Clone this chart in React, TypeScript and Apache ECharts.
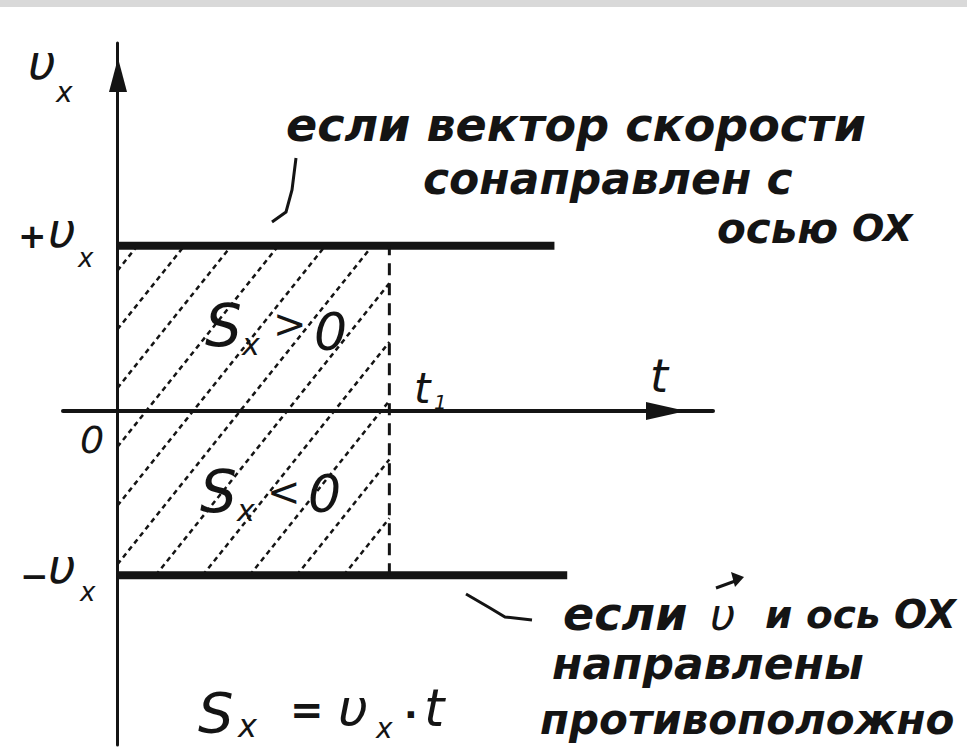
import React, { useEffect, useRef } from "react";
import * as echarts from "echarts";

// time values (t1 = 1), velocity values (±υx = ±1)
const t1 = 1;
const vx = 1;
const upperLineEnd = 1.607; // end of +υx line
const lowerLineEnd = 1.654; // end of −υx line

const topNote = ["если вектор скорости", "сонаправлен с", "осью", "OX"];
const bottomNote = ["если", "и ось OX", "направлены", "противоположно"];

const INK = "#141414";
const hand = (s: number) => `italic bold ${s}px 'DejaVu Sans'`;

function txt(text: string, x: number, y: number, font: string, extra: any = {}) {
  return {
    type: "text",
    x,
    y,
    style: {
      text,
      font,
      fill: INK,
      textAlign: "left",
      textVerticalAlign: "middle",
      ...extra,
    },
    z: 10,
  };
}

export default function App() {
  const ref = useRef<HTMLDivElement>(null);
  useEffect(() => {
    if (!ref.current) return;
    const chart = echarts.init(ref.current, null, { renderer: "svg" });
    const mathF = (s: number) => `italic ${s}px 'DejaVu Sans'`;
    const option: any = {
      animation: false,
      backgroundColor: "#ffffff",
      grid: { left: 63, right: 254, top: 43, bottom: 6 },
      xAxis: {
        type: "value",
        min: -0.2,
        max: 2.19,
        axisLine: {
          show: true,
          onZero: true,
          lineStyle: { color: INK, width: 4 },
        },
        axisTick: { show: false },
        axisLabel: { show: false },
        splitLine: { show: false },
      },
      yAxis: {
        type: "value",
        min: -2.03,
        max: 2.23,
        axisLine: {
          show: true,
          onZero: true,
          lineStyle: { color: INK, width: 3 },
        },
        axisTick: { show: false },
        axisLabel: { show: false },
        splitLine: { show: false },
      },
      series: [
        {
          type: "custom",
          silent: true,
          data: [[0, -vx, t1, vx]],
          renderItem: (params: any, api: any) => {
            const p0 = api.coord([api.value(0), api.value(3)]);
            const p1 = api.coord([api.value(2), api.value(1)]);
            const x0 = p0[0], yt = p0[1], x1 = p1[0], yb = p1[1];
            const H = yb - yt;
            const k = 1.25;
            const step = 47;
            const children: any[] = [];
            for (let c = x0 - H / k + 20; c < x1; c += step) {
              const sMin = Math.max(0, (x0 - c) * k);
              const sMax = Math.min(H, (x1 - c) * k);
              if (sMax - sMin < 10) continue;
              children.push({
                type: "line",
                shape: {
                  x1: c + sMin / k,
                  y1: yb - sMin,
                  x2: c + sMax / k,
                  y2: yb - sMax,
                },
                style: { stroke: INK, lineWidth: 2.5, lineDash: [5, 4] },
              });
            }
            return { type: "group", children };
          },
        },
        {
          type: "line",
          data: [[0, vx], [upperLineEnd, vx]],
          symbol: "none",
          lineStyle: { color: INK, width: 8 },
        },
        {
          type: "line",
          data: [[0, -vx], [lowerLineEnd, -vx]],
          symbol: "none",
          lineStyle: { color: INK, width: 8 },
        },
        {
          type: "line",
          data: [[t1, -vx], [t1, vx]],
          symbol: "none",
          lineStyle: { color: INK, width: 3, type: [12, 8] },
        },
      ],
      graphic: [
        { type: "rect", shape: { x: 0, y: 0, width: 967, height: 7 }, style: { fill: "#d9d9d9" }, z: 20 },
        // axis arrowheads (set back from the axis ends, as drawn)
        { type: "polygon", shape: { points: [[118, 58], [109, 92], [127, 92]] }, style: { fill: INK }, z: 5 },
        { type: "polygon", shape: { points: [[686, 411], [646, 402], [646, 420]] }, style: { fill: INK }, z: 5 },
        // top annotation
        txt(topNote[0], 286, 125, hand(46)),
        txt(topNote[1], 423, 178, hand(44)),
        txt(topNote[2], 717, 228, hand(42)),
        txt(topNote[3], 852, 228, hand(38)),
        {
          type: "polyline",
          shape: { points: [[296, 158], [292, 190], [286, 212], [272, 222]] },
          style: { stroke: INK, lineWidth: 3, fill: "none" },
        },
        // bottom annotation
        {
          type: "polyline",
          shape: { points: [[466, 594], [490, 608], [505, 617], [532, 620]] },
          style: { stroke: INK, lineWidth: 3, fill: "none" },
        },
        txt(bottomNote[0], 563, 614, hand(46)),
        txt("υ", 710, 614, mathF(44)),
        {
          type: "line",
          shape: { x1: 716, y1: 588, x2: 738, y2: 580 },
          style: { stroke: INK, lineWidth: 3 },
        },
        {
          type: "polygon",
          shape: { points: [[744, 577], [731, 572], [735, 587]] },
          style: { fill: INK },
        },
        txt(bottomNote[1], 765, 614, hand(39)),
        txt(bottomNote[2], 552, 663, hand(44)),
        txt(bottomNote[3], 540, 719, hand(42)),
        // axis labels
        txt("υ", 28, 62, mathF(48)),
        txt("x", 56, 92, mathF(28)),
        txt("+", 18, 236, "bold 34px 'DejaVu Sans'"),
        txt("υ", 48, 230, mathF(48)),
        txt("x", 78, 258, mathF(26)),
        txt("−", 20, 576, "bold 34px 'DejaVu Sans'"),
        txt("υ", 48, 566, mathF(48)),
        txt("x", 80, 592, mathF(26)),
        txt("0", 80, 440, mathF(38)),
        txt("t", 650, 376, mathF(46)),
        txt("t", 414, 388, mathF(42)),
        txt("1", 434, 402, mathF(20)),
        // area labels
        txt("S", 205, 326, mathF(58)),
        txt("x", 242, 344, mathF(30)),
        txt(">", 273, 324, mathF(40)),
        txt("0", 314, 332, mathF(52)),
        txt("S", 200, 492, mathF(58)),
        txt("x", 237, 510, mathF(30)),
        txt("<", 267, 492, mathF(40)),
        txt("0", 308, 494, mathF(52)),
        // formula
        txt("S", 198, 712, mathF(56)),
        txt("x", 238, 726, mathF(32)),
        txt("=", 290, 710, "bold 40px 'DejaVu Sans'"),
        txt("υ", 338, 708, mathF(52)),
        txt("x", 376, 728, mathF(28)),
        txt("·", 404, 714, "bold 36px 'DejaVu Sans'"),
        txt("t", 424, 708, mathF(52)),
      ],
    };
    chart.setOption(option);
    return () => chart.dispose();
  }, []);
  return (
    <div
      ref={ref}
      style={{ position: "fixed", left: 0, top: 0, width: 967, height: 751, background: "#fff" }}
    />
  );
}
